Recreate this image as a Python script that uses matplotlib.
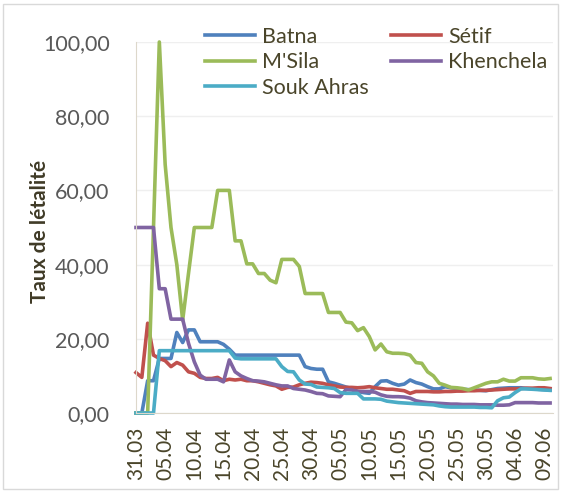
import matplotlib
matplotlib.use("Agg")
import matplotlib.pyplot as plt
import matplotlib.patches as patches
import pandas as pd

plt.rcParams['font.family'] = ['Lato', 'DejaVu Sans']

# daily case fatality rate, 31.03 -> 10.06
dates = pd.date_range('2020-03-31', periods=72)

batna = [0, 0, 8.7, 8.7, 14.7, 14.7, 14.7, 21.7, 19, 22.4,
         22.4, 19.2, 19.2, 19.2, 19.2, 18.5, 17.2, 15.6, 15.6, 15.6,
         15.6, 15.6, 15.6, 15.6, 15.6, 15.6, 15.6, 15.6, 15.6, 12.5,
         12, 11.8, 11.8, 8.4, 8, 7.5, 7, 6.6, 5.8, 5.5,
         5.3, 7.1, 8.6, 8.7, 8, 7.5, 7.8, 8.9, 8.2, 7.8,
         7.1, 6.5, 6.5, 7.1, 6.8, 6.6, 6.4, 6.3, 6.2, 6.1,
         6, 6.3, 6.6, 6.7, 6.8, 6.8, 6.8, 6.6, 6.5, 6.4,
         6.3, 6.2]

setif = [10.9, 9.6, 24.2, 15.6, 14.7, 14.1, 12.5, 13.6, 12.9, 11.1,
         10.7, 9.6, 9.3, 9.3, 9.6, 8.7, 9.1, 8.9, 9.1, 8.7,
         8.7, 8.4, 8, 7.6, 7.3, 6.4, 6.9, 7, 7.6, 8,
         8.3, 8.2, 8, 7.6, 7.3, 7, 6.9, 6.9, 6.8, 6.9,
         7.1, 6.8, 6.6, 6.4, 6.4, 6.2, 6, 5.3, 5.8, 5.8,
         5.8, 5.7, 5.7, 5.8, 5.8, 5.9, 5.9, 6, 6, 6.1,
         6.1, 6.2, 6.3, 6.4, 6.5, 6.5, 6.6, 6.7, 6.7, 6.8,
         6.8, 6.6]

msila = [0, 0, 0, 50, 100, 67, 50, 40, 25, 37.6,
         50, 50, 50, 50, 60, 60, 60, 46.4, 46.4, 40.2,
         40.2, 37.6, 37.6, 35.8, 35.1, 41.4, 41.4, 41.4, 39.5, 32.2,
         32.2, 32.2, 32.2, 27.1, 27.1, 27.1, 24.5, 24.3, 22.2, 23,
         20.6, 17, 18.6, 16.5, 16.1, 16.1, 16, 15.6, 13.6, 13.4,
         11.1, 10, 8, 7.5, 6.9, 6.8, 6.6, 6.2, 6.8, 7.4,
         8, 8.4, 8.4, 9.1, 8.6, 8.6, 9.5, 9.5, 9.5, 9.2,
         9.1, 9.3]

khenchela = [50, 50, 50, 50, 33.5, 33.5, 25.3, 25.3, 25.3, 18.8,
             13.8, 10.2, 9.1, 9.1, 9.1, 8.4, 14.3, 11.1, 10, 9.3,
             8.7, 8.6, 8.4, 8, 7.6, 7.3, 7.3, 6.6, 6.4, 6.2,
             5.8, 5.3, 5.2, 4.6, 4.5, 4.4, 6.3, 6.2, 5.8, 5.8,
             5.8, 5.6, 4.9, 4.5, 4.4, 4.4, 4.3, 4, 3.3, 3,
             2.8, 2.7, 2.6, 2.5, 2.4, 2.4, 2.3, 2.3, 2.3, 2.2,
             2.2, 2.2, 2.1, 2.1, 2.2, 2.8, 2.8, 2.8, 2.8, 2.7,
             2.7, 2.7]

souk_ahras = [0, 0, 0, 0, 16.8, 16.8, 16.8, 16.8, 16.8, 16.8,
              16.8, 16.8, 16.8, 16.8, 16.8, 16.8, 16.8, 14.8, 14.6, 14.6,
              14.6, 14.6, 14.6, 14.6, 14.6, 12.5, 11.2, 11.1, 8.9, 7.8,
              7.7, 7, 6.9, 6.8, 6.6, 5.5, 5.3, 5.3, 5.3, 3.8,
              3.8, 3.8, 3.7, 3.2, 3, 2.8, 2.7, 2.6, 2.5, 2.4,
              2.3, 2.2, 1.9, 1.7, 1.6, 1.6, 1.6, 1.6, 1.6, 1.5,
              1.5, 1.4, 3.3, 4.1, 4.3, 5.5, 6.5, 6.5, 6.4, 6.3,
              6.2, 6.1]

series = [("Batna", batna, '#4F81BD'),
          ("Sétif", setif, '#C0504D'),
          ("M'Sila", msila, '#9BBB59'),
          ("Khenchela", khenchela, '#8064A2'),
          ("Souk Ahras", souk_ahras, '#4BACC6')]

W, H = 561, 492
fig = plt.figure(figsize=(W / 100, H / 100), dpi=100)
ax = fig.add_axes([136 / W, 1 - 413 / H, (553 - 136) / W, (413 - 42) / H])

x = list(range(len(dates)))
lines = {}
for name, vals, col in series:
    lines[name], = ax.plot(x, vals, color=col, lw=2.6, label=name,
                           solid_joinstyle='round', clip_on=False)

ax.set_xlim(0, 71.5)
ax.set_ylim(0, 100)
ax.set_yticks(range(0, 101, 20))
ax.set_yticklabels([('%.2f' % v).replace('.', ',') for v in range(0, 101, 20)],
                   fontsize=15.5, color='#595959')
ticks = list(range(0, 71, 5))
ax.set_xticks(ticks)
ax.set_xticklabels([dates[i].strftime('%d.%m') for i in ticks], rotation=90,
                   fontsize=15, color='#4A452A')
ax.tick_params(length=0, pad=10)
ax.tick_params(axis='y', pad=19)

ax.grid(axis='y', color='#EFEFEF', lw=1)
ax.set_axisbelow(True)
for s in ['top', 'right']:
    ax.spines[s].set_visible(False)
ax.spines['left'].set_color('#DDD8CB')
ax.spines['bottom'].set_color('#DDD8CB')

ax.set_ylabel('Taux de létalité', fontsize=15, fontweight='bold',
              color='#3F3A26', va='center')
ax.yaxis.set_label_coords(-0.23, 0.49)

# Excel fills the legend row by row
order = ["Batna", "M'Sila", "Souk Ahras", "Sétif", "Khenchela"]
leg = fig.legend([lines[n] for n in order], order, ncol=2,
                 loc='upper left', bbox_to_anchor=(205 / W, 1 - 27 / H),
                 frameon=False, fontsize=15.5, handlelength=2.3,
                 handletextpad=0.35, columnspacing=1.05, labelspacing=0.25,
                 borderpad=0, borderaxespad=0)
for t in leg.get_texts():
    t.set_color('#4A452A')

fig.patches.append(patches.Rectangle((3 / W, 3 / H), (W - 6) / W, (H - 7) / H,
                                     transform=fig.transFigure, fill=False,
                                     edgecolor='#D9D9D9', lw=1))

fig.savefig('out.png', dpi=100)
